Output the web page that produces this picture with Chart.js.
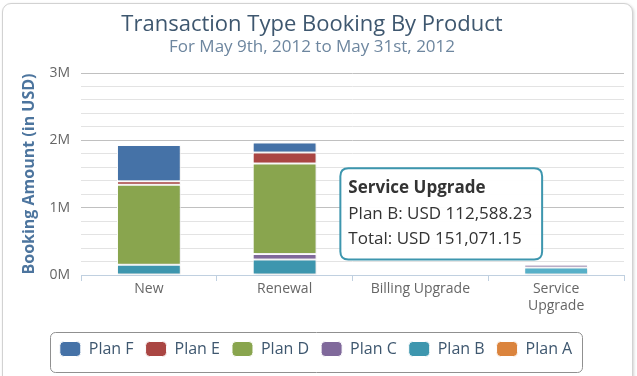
<!DOCTYPE html>
<html>
<head>
<meta charset="utf-8">
<script src="https://cdn.jsdelivr.net/npm/chart.js@4"></script>
<style>
  html, body { margin: 0; padding: 0; background: #fff; overflow: hidden; }
  #frame {
    position: absolute; left: 2px; top: 3px; width: 629px; height: 400px;
    border: 1px solid #d2d2d2; border-radius: 9px;
    box-shadow: 1px 1px 3px rgba(0, 0, 0, 0.18);
    background: #fff;
  }
  #chart { position: absolute; left: 0; top: 0; }
</style>
</head>
<body>
<div id="frame"></div>
<canvas id="chart" width="637" height="376"></canvas>
<script>
// ---- data ----
const categories = ["New", "Renewal", "Billing Upgrade", "Service Upgrade"];
const tickLines = [["New"], ["Renewal"], ["Billing Upgrade"], ["Service", "Upgrade"]];
const planA = [0, 0, 0, 0];
const planB = [152000, 231000, 0, 112588.23];
const planC = [0, 80000, 0, 38482.92];
const planD = [1190000, 1345000, 0, 0];
const planE = [50000, 163000, 0, 0];
const planF = [540000, 150000, 0, 0];
const yMax = 3000000;
const yStep = 200000;

(function () {
  const C = {
    title: "#3E576F",
    subtitle: "#6D869F",
    axisTitle: "#4d759e",
    label: "#666666",
    major: "#C0C0C0",
    minor: "#E3E3E3",
    axis: "#C0D0E0",
  };

  Chart.defaults.font.family = "'Open Sans', 'DejaVu Sans', sans-serif";
  Chart.defaults.color = C.label;

  // bottom-to-top stacking order, legend is reversed
  const series = [
    { n: "Plan A", d: planA, c: "#DB843D", h: "#F59E57" },
    { n: "Plan B", d: planB, c: "#3D96AE", h: "#57B0C8" },
    { n: "Plan C", d: planC, c: "#80699B", h: "#9A83B5" },
    { n: "Plan D", d: planD, c: "#89A54E", h: "#A3BF68" },
    { n: "Plan E", d: planE, c: "#AA4643", h: "#C4605D" },
    { n: "Plan F", d: planF, c: "#4572A7", h: "#5F8CC1" },
  ];

  const usd = (v) => v.toLocaleString("en-US", { minimumFractionDigits: 2, maximumFractionDigits: 2 });

  Chart.Tooltip.positioners.hcLeft = function (items) {
    if (!items.length) return false;
    const el = items[0].element;
    return { x: el.x - 22, y: el.y - 8 };
  };

  const legendFrame = {
    id: "legendFrame",
    afterLayout(chart) {
      // legend sits a touch right of the plot centre in the original
      chart.legend.left += 4;
      chart.legend.right += 4;
    },
    afterDraw(chart) {
      const boxes = chart.legend.legendHitBoxes;
      if (!boxes || !boxes.length) return;
      const l = Math.min(...boxes.map((b) => b.left)) - 10;
      const r = Math.max(...boxes.map((b) => b.left + b.width)) + 10;
      const t = boxes[0].top - 9;
      const b = boxes[0].top + 31;
      const ctx = chart.ctx;
      ctx.save();
      ctx.strokeStyle = "#909090";
      ctx.lineWidth = 1;
      ctx.beginPath();
      ctx.roundRect(Math.round(l) + 0.5, Math.round(t) + 0.5, Math.round(r - l), Math.round(b - t), 5);
      ctx.stroke();
      ctx.restore();
    },
  };

  const barShadow = {
    id: "barShadow",
    beforeDatasetsDraw(chart) {
      const ctx = chart.ctx;
      ctx.save();
      ctx.shadowColor = "rgba(0,0,0,0.12)";
      ctx.shadowBlur = 3;
      ctx.shadowOffsetX = 1;
      ctx.shadowOffsetY = 1;
    },
    afterDatasetsDraw(chart) {
      chart.ctx.restore();
    },
  };

  const chart = new Chart(document.getElementById("chart"), {
    type: "bar",
    data: {
      labels: categories,
      datasets: series.map((s) => ({
        label: s.n,
        data: s.d,
        backgroundColor: s.c,
        hoverBackgroundColor: s.h,
        borderColor: "#fff",
        hoverBorderColor: "#fff",
        borderWidth: 1,
        borderSkipped: false,
        barPercentage: 1,
        categoryPercentage: 0.47,
        stack: "all",
      })),
    },
    plugins: [legendFrame, barShadow],
    options: {
      responsive: false,
      animation: false,
      events: [],
      layout: { padding: { left: 0, right: 13, top: 0, bottom: 9 } },
      scales: {
        x: {
          stacked: true,
          grid: { offset: true, drawOnChartArea: false, drawTicks: true, tickLength: 6, color: C.axis },
          border: { display: true, color: C.axis, width: 1 },
          ticks: {
            padding: 0,
            color: C.label,
            font: { size: 14 },
            maxRotation: 0,
            autoSkip: false,
            callback: (v, i) => tickLines[i],
          },
          afterFit: (s) => { s.height = 54; },
        },
        y: {
          stacked: true,
          min: 0,
          max: yMax,
          border: { display: false },
          grid: {
            drawTicks: false,
            color: (ctx) => (ctx.tick && ctx.tick.value % 1000000 === 0 ? C.major : C.minor),
          },
          ticks: {
            stepSize: yStep,
            autoSkip: false,
            padding: 11,
            color: C.label,
            font: { size: 14 },
            callback: (v) => (v % 1000000 === 0 ? v / 1000000 + "M" : ""),
          },
          title: {
            display: true,
            text: "Booking Amount (in USD)",
            color: C.axisTitle,
            font: { size: 16, weight: "bold" },
            padding: { top: 20, bottom: 0 },
          },
          afterFit: (s) => { s.width = 81; },
        },
      },
      plugins: {
        title: {
          display: true,
          text: "Transaction Type Booking By Product",
          color: C.title,
          font: { size: 22, weight: "normal", lineHeight: 1.2 },
          padding: { top: 12, bottom: 0 },
        },
        subtitle: {
          display: true,
          text: "For May 9th, 2012 to May 31st, 2012",
          color: C.subtitle,
          font: { size: 17, weight: "normal", lineHeight: 1.0 },
          padding: { top: 0, bottom: 17.6 },
        },
        legend: {
          position: "bottom",
          reverse: true,
          labels: {
            boxWidth: 21,
            boxHeight: 15,
            useBorderRadius: true,
            borderRadius: 4,
            padding: 12,
            color: C.title,
            font: { size: 16 },
          },
        },
        tooltip: {
          position: "hcLeft",
          xAlign: "right",
          yAlign: "bottom",
          caretSize: 0,
          caretPadding: 0,
          cornerRadius: 8,
          backgroundColor: "rgba(255,255,255,0.95)",
          borderColor: "#3D96AE",
          borderWidth: 2,
          displayColors: false,
          titleColor: "#333",
          bodyColor: "#333",
          footerColor: "#333",
          titleFont: { size: 17, weight: "bold" },
          bodyFont: { size: 17 },
          footerFont: { size: 17, weight: "normal" },
          titleMarginBottom: 5,
          footerMarginTop: 5,
          padding: { top: 10, bottom: 10, left: 8, right: 10 },
          callbacks: {
            title: (items) => categories[items[0].dataIndex],
            label: (ctx) => `${ctx.dataset.label}: USD ${usd(ctx.parsed.y)}`,
            footer: (items) => {
              const i = items[0].dataIndex;
              const total = items[0].chart.data.datasets.reduce((a, ds) => a + ds.data[i], 0);
              return `Total: USD ${usd(total)}`;
            },
          },
        },
      },
    },
  });

  // show the hovered "Service Upgrade / Plan B" state as in the reference
  const bIdx = series.findIndex((s) => s.n === "Plan B");
  const active = [{ datasetIndex: bIdx, index: 3 }];
  const el = chart.getDatasetMeta(bIdx).data[3];
  chart.setActiveElements(active);
  chart.tooltip.setActiveElements(active, { x: el.x, y: el.y });
  chart.update();
})();
</script>
</body>
</html>
